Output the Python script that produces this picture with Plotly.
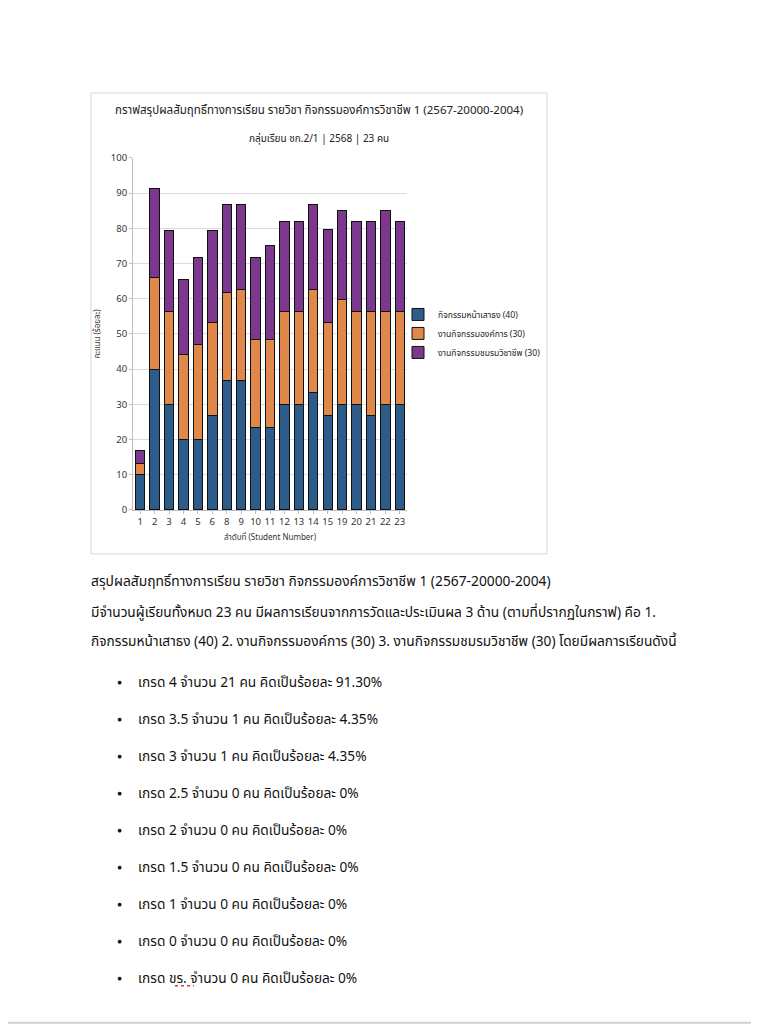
import plotly.graph_objects as go

VW, VH = 759, 1024
OFF = 8  # default page body margin
W, H = VW - 2 * OFF, 1030

students = ["1", "2", "3", "4", "5", "6", "8", "9", "10", "11", "12", "13", "14", "15", "19", "20", "21", "22", "23"]
flag_ceremony = [10, 40, 30, 20, 20, 26.7, 36.7, 36.7, 23.3, 23.3, 30, 30, 33.3, 26.7, 30, 30, 26.7, 30, 30]
organization = [3.3, 25.9, 26.4, 24.2, 27.0, 26.6, 25.2, 25.8, 25.1, 25.1, 26.4, 26.4, 29.2, 26.6, 29.7, 26.5, 29.8, 26.5, 26.5]
club = [3.6, 25.3, 22.9, 21.2, 24.7, 26.0, 24.8, 24.2, 23.3, 26.6, 25.6, 25.6, 24.2, 26.4, 25.3, 25.5, 25.5, 28.5, 25.5]

series_names = ["กิจกรรมหน้าเสาธง (40)", "งานกิจกรรมองค์การ (30)", "งานกิจกรรมชมรมวิชาชีพ (30)"]
series_colors = ["#2d5c8b", "#e0884a", "#7b388c"]

chart_title = "กราฟสรุปผลสัมฤทธิ์ทางการเรียน รายวิชา กิจกรรมองค์การวิชาชีพ 1 (2567-20000-2004)"
chart_subtitle = "กลุ่มเรียน ชก.2/1 | 2568 | 23 คน"
x_title = "ลำดับที่ (Student Number)"
y_title = "คะแนน (ร้อยละ)"

heading = "สรุปผลสัมฤทธิ์ทางการเรียน รายวิชา กิจกรรมองค์การวิชาชีพ 1 (2567-20000-2004)"
para_lines = [
    "มีจำนวนผู้เรียนทั้งหมด 23 คน มีผลการเรียนจากการวัดและประเมินผล 3 ด้าน (ตามที่ปรากฏในกราฟ) คือ 1.",
    "กิจกรรมหน้าเสาธง (40) 2. งานกิจกรรมองค์การ (30) 3. งานกิจกรรมชมรมวิชาชีพ (30) โดยมีผลการเรียนดังนี้",
]
grades = ["4", "3.5", "3", "2.5", "2", "1.5", "1", "0", "ขร."]
grade_counts = [21, 1, 1, 0, 0, 0, 0, 0, 0]
grade_pcts = ["91.30%", "4.35%", "4.35%", "0%", "0%", "0%", "0%", "0%", "0%"]

FONT = "Tahoma, 'Noto Sans Thai', 'Loma', 'Garuda', 'Noto Sans', sans-serif"

def px(x):
    return (x - OFF) / W

def py(y):
    page_y = (y - 6.1) / 0.9866
    return 1 - (page_y - OFF) / H

fig = go.Figure()
for vals, name, col in zip([flag_ceremony, organization, club], series_names, series_colors):
    fig.add_trace(go.Bar(
        x=students, y=vals, name=name,
        marker=dict(color=col, line=dict(color="#111111", width=1)),
    ))

fig.update_layout(
    width=W, height=H,
    margin=dict(l=0, r=0, t=0, b=0),
    paper_bgcolor="white", plot_bgcolor="white",
    barmode="stack", bargap=0.35,
    font=dict(family=FONT, color="#333333", size=9),
    showlegend=True,
    legend=dict(x=px(398), y=py(299), xanchor="left", yanchor="top",
                traceorder="normal",
                font=dict(size=8.6, color="#222222"), tracegroupgap=0,
                itemwidth=30, bgcolor="rgba(0,0,0,0)"),
    xaxis=dict(domain=[px(133), px(407)], type="category",
               showgrid=False, showline=True, linecolor="#bfbfbf",
               ticks="outside", ticklen=3, tickcolor="#bfbfbf",
               tickfont=dict(size=9.5, color="#333333"),
               title=dict(text=x_title, font=dict(size=8, color="#333333"), standoff=6)),
    yaxis=dict(domain=[py(509), py(157)], range=[0, 100], dtick=10,
               showgrid=True, gridcolor="#dcdcdc", gridwidth=1,
               showline=True, linecolor="#bfbfbf",
               ticks="outside", ticklen=3, tickcolor="#bfbfbf",
               tickfont=dict(size=9.5, color="#333333"),
               zeroline=False,
               title=dict(text=y_title, font=dict(size=8, color="#333333"), standoff=8)),
)

shapes = [
    dict(type="rect", xref="paper", yref="paper", x0=px(91), x1=px(547), y0=py(553), y1=py(92),
         line=dict(color="#d6d6d6", width=1), fillcolor="rgba(0,0,0,0)", layer="below"),
    dict(type="line", xref="paper", yref="paper", x0=px(0), x1=px(VW), y0=py(1022), y1=py(1022),
         line=dict(color="#d0d0d0", width=2)),
    dict(type="line", xref="paper", yref="paper", x0=px(175), x1=px(194), y0=py(985), y1=py(985),
         line=dict(color="#d23c3c", width=1.5, dash="dot")),
]

ann = [
    dict(text=chart_title, x=px(319), y=py(110), font=dict(size=11.5, color="#222222")),
    dict(text=chart_subtitle, x=px(319), y=py(138), font=dict(size=10, color="#222222")),
]
for a in ann:
    a.update(xref="paper", yref="paper", showarrow=False, xanchor="center", yanchor="middle")

body = []
body.append(dict(text=heading, x=px(89), y=py(581), font=dict(size=13.8, color="#111111")))
for i, line in enumerate(para_lines):
    body.append(dict(text=line, x=px(89), y=py(612 + i * 29), font=dict(size=13.7, color="#111111")))
for i, (g, c, p) in enumerate(zip(grades, grade_counts, grade_pcts)):
    yy = 682 + i * 37
    body.append(dict(text="●", x=px(115), y=py(yy), font=dict(size=8.5, color="#111111")))
    body.append(dict(text=f"เกรด {g} จำนวน {c} คน คิดเป็นร้อยละ {p}", x=px(136), y=py(yy),
                     font=dict(size=13.7, color="#111111")))
for a in body:
    a.update(xref="paper", yref="paper", showarrow=False, xanchor="left", yanchor="middle")

fig.update_layout(shapes=shapes, annotations=ann + body)
fig.write_html("out.html")
